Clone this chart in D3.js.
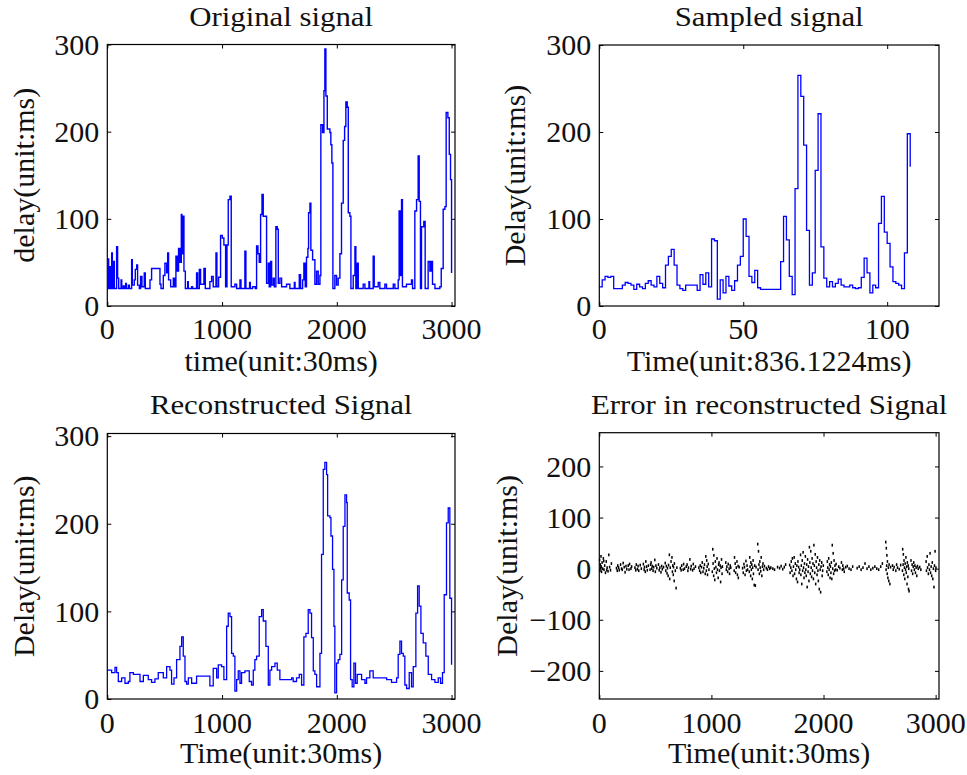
<!DOCTYPE html>
<html>
<head>
<meta charset="utf-8">
<script src="https://cdn.jsdelivr.net/npm/d3@7"></script>
<style>
html,body{margin:0;padding:0;background:#fff;}
svg{display:block;}
text{font-family:"Liberation Serif","Times New Roman",serif;fill:#111;}
</style>
</head>
<body>
<svg id="chart" width="967" height="775"></svg>
<script>
// ---------------- DATA ----------------
// Original signal (time unit 30ms, delay ms) — step vertices
const origT = [0,12,23,32,38,44,52,61,81,90,99,120,126,139,148,160,166,183,192,212,218,235,244,256,264,279,290,302,322,331,372,386,430,459,468,488,502,517,526,534,552,575,587,598,610,621,633,645,650,659,668,680,700,706,735,743,778,787,802,813,842,854,894,909,923,947,955,970,987,1002,1016,1031,1043,1054,1069,1080,1112,1127,1156,1165,1199,1208,1240,1246,1266,1289,1301,1313,1324,1336,1348,1359,1379,1388,1403,1411,1423,1432,1446,1455,1469,1481,1490,1504,1519,1562,1591,1630,1636,1664,1673,1684,1702,1713,1725,1736,1748,1754,1766,1774,1789,1809,1824,1838,1853,1861,1876,1888,1896,1905,1917,1940,1948,1957,1966,1983,1998,2012,2027,2041,2056,2068,2079,2091,2100,2114,2123,2143,2158,2166,2178,2187,2230,2245,2280,2286,2317,2326,2361,2375,2419,2433,2492,2506,2535,2543,2555,2564,2572,2607,2651,2660,2680,2695,2709,2718,2729,2738,2758,2770,2796,2811,2822,2834,2855,2898,2910,2927,2942,2953,2968,2980,2991,3000];
const origV = [54,20,45,20,61,20,51,20,68,32,20,30,20,23,20,26,20,24,20,53,24,30,42,47,24,20,34,22,38,20,30,43,43,25,20,35,49,38,61,30,22,32,22,57,40,66,50,105,60,103,40,20,28,20,22,20,38,20,42,25,43,20,28,34,22,61,22,33,81,78,70,22,70,122,126,22,25,20,30,20,63,20,27,20,22,20,69,60,50,105,128,103,103,26,49,22,51,24,32,22,91,88,26,32,22,25,20,27,20,20,36,20,30,49,22,56,66,107,118,64,53,25,40,25,35,208,199,247,295,241,203,199,185,164,20,35,24,32,60,118,190,206,234,228,107,103,20,35,68,20,49,20,25,20,28,20,57,22,27,20,25,20,25,20,30,109,35,122,22,25,30,20,109,122,172,120,20,91,97,20,51,40,51,25,20,22,43,111,114,222,216,174,145,38];

// Sampled signal (time unit 836.1224ms), one value per sample index 0..108
const sampV = [22,30,34,33,34,20,20,20,24,27,26,24,19,25,22,20,26,29,24,22,34,26,21,47,57,65,47,24,20,18,24,24,24,24,18,36,25,38,22,77,75,8,30,15,34,23,18,29,47,57,100,80,34,27,41,21,19,19,19,19,19,19,19,51,103,76,34,13,135,265,241,185,87,24,38,156,221,68,32,22,28,22,26,31,24,22,22,24,21,20,21,33,55,38,15,24,21,95,126,85,72,45,28,26,24,20,61,198,160];

// Reconstructed signal (time unit 30ms) — step vertices
const reconT = [0,38,67,81,96,125,154,183,197,227,285,314,357,386,415,444,488,517,546,560,581,604,633,648,662,677,691,706,735,778,894,923,953,967,996,1016,1040,1054,1069,1083,1098,1112,1127,1141,1156,1170,1199,1237,1257,1272,1286,1301,1324,1345,1359,1382,1403,1417,1432,1461,1481,1504,1606,1620,1649,1673,1693,1713,1731,1751,1766,1780,1795,1809,1824,1853,1867,1882,1896,1911,1920,1940,1949,1963,1975,1983,1998,2012,2027,2042,2056,2071,2085,2091,2108,2120,2134,2149,2163,2178,2216,2245,2259,2288,2317,2434,2477,2521,2535,2550,2564,2579,2593,2608,2631,2651,2666,2689,2704,2718,2733,2753,2776,2797,2826,2855,2884,2904,2921,2936,2956,2971,2985,3000];
const reconV = [33,30,36,30,20,24,18,20,30,28,20,27,22,19,23,30,24,37,33,17,24,45,60,71,49,20,17,24,18,26,15,35,24,39,37,22,83,98,94,52,49,9,22,32,18,30,32,20,16,33,45,49,94,102,89,60,16,33,37,41,33,22,24,20,24,28,16,71,75,102,98,70,32,28,14,52,165,262,270,256,209,207,186,148,83,7,41,45,51,136,197,233,224,121,113,22,14,41,18,28,22,18,24,32,24,22,19,24,51,66,52,49,16,12,30,14,37,98,129,106,75,64,49,28,22,19,24,18,30,119,201,218,115,39];

// Error in reconstructed signal (time unit 30ms, ms)
const errT = [3,6,9,12,15,18,20,25,30,36,40,42,48,55,62,66,70,78,85,92,100,108,
  153,160,165,172,178,190,198,205,213,222,230,238,245,258,265,270,282,288,
  318,325,330,340,346,352,365,375,
  393,400,403,410,415,422,428,438,
  453,458,462,468,472,480,485,495,500,505,513,
  528,534,540,550,556,562,573,
  588,593,598,604,608,614,618,625,628,633,640,648,652,655,660,662,668,670,678,685,692,
  723,730,735,748,752,760,775,783,790,795,808,815,820,832,838,845,858,
  888,895,900,905,912,918,925,932,938,945,950,955,958,962,965,972,978,
  1008,1012,1015,1020,1022,1026,1030,1035,1040,1045,1050,1054,1060,1064,1068,1072,1078,1082,1086,1090,1095,1098,
  1128,1133,1138,1145,1150,1158,1162,1168,1173,
  1203,1206,1212,1216,1222,1228,1232,1238,1240,1248,
  1278,1284,1290,1295,1300,1308,1312,1318,1323,
  1338,1342,1345,1350,1352,1356,1360,1365,1368,1372,1375,1382,1386,1392,1398,
  1413,1416,1420,1424,1428,1432,1435,1440,1444,1450,1455,1460,1466,1473,
  1490,1500,1510,1520,1530,1548,1563,1590,1608,1622,1636,1650,1662,
  1698,1702,1708,1712,1718,1722,1728,1732,1738,1742,1748,1752,1758,1762,1768,1772,1778,1782,1788,
  1795,1798,1802,1806,1810,1814,1818,1822,1826,1830,1834,1838,1842,1846,1850,1854,1858,1862,1866,1870,1874,1878,1882,1886,1890,1894,1898,1902,1906,
  1910,1914,1918,1922,1926,1930,1934,1938,1942,1946,1950,1954,1958,1962,1966,1970,1974,1978,1984,1988,1992,1998,
  2030,2034,2038,2042,2046,2050,2054,2058,2062,2066,2070,2074,2078,2082,2086,2090,2094,2098,2102,2108,2112,2122,2135,2146,
  2160,2168,2172,2180,2185,2198,2212,2228,2245,2260,
  2300,2318,2335,2352,2370,2388,2405,2422,2440,2458,2475,2492,2510,2525,
  2555,2558,2560,2563,2565,2568,2570,2574,2578,2582,2585,2592,2598,
  2615,2622,2630,2645,2652,2660,2675,2688,
  2704,2706,2710,2712,2716,2718,2722,2725,2728,2732,2735,2738,2742,2745,2748,2752,2755,2758,2760,2763,
  2780,2785,2790,2795,2800,2805,2810,2815,2820,2826,2832,2838,2845,2858,2868,
  2915,2918,2925,2928,2935,2940,2945,2950,2955,2960,2965,2970,2975,2980,2985,2990,2995,3000,3003];
const errV = [17,-4,8,2,24,4,-6,12,0,20,15,-2,6,-8,14,-3,2,-5,27,3,-3,10,
  1,-4,6,2,-3,8,0,-2,11,3,-7,5,-1,6,-2,9,0,4,
  2,-3,8,-1,5,-4,7,0,
  9,-2,3,-6,14,4,-3,6,
  -2,8,12,0,5,-4,3,17,-6,6,1,
  8,-3,2,-7,5,-1,3,
  11,-4,5,-9,1,-14,7,27,-20,2,14,22,-6,6,-12,3,-24,10,-4,-38,2,
  1,-3,6,-2,9,0,4,8,-4,2,18,-1,5,-3,9,0,4,
  2,-4,6,-8,3,12,-6,1,8,-10,24,-4,16,4,-12,9,-2,
  -6,38,10,-14,26,0,-22,14,3,-8,20,-2,-18,8,12,-4,6,-26,2,18,-10,4,
  12,-2,4,-6,9,0,-10,6,2,
  -4,22,10,-8,2,14,-12,5,-18,3,
  1,-8,9,3,-12,15,-4,6,-2,
  -6,22,4,-14,12,-2,8,-20,2,16,-10,-32,6,-33,3,
  48,-2,34,8,-10,14,2,-5,22,-14,4,10,-2,5,
  1,-2,4,0,2,0,-2,3,1,5,-1,3,8,
  7,-8,2,14,-4,20,-14,4,22,-10,10,-2,-20,6,-26,14,3,-8,-2,
  27,-12,6,-30,16,-4,32,2,-18,10,-8,24,-2,-14,8,-36,18,-6,4,-24,42,12,-10,34,2,-16,20,-4,10,
  -20,46,6,-8,28,-30,14,2,-12,22,-4,-24,8,-40,16,-2,-46,4,12,-14,-4,6,
  -6,14,2,-12,20,-2,8,-18,4,-8,12,-20,46,0,30,-10,16,-4,6,-2,9,-3,4,1,
  12,-2,6,0,-6,3,5,0,-2,4,
  1,4,-2,2,10,0,4,-2,1,4,0,-2,4,10,
  52,-2,40,6,26,-10,14,-18,2,-24,8,-30,3,
  6,-2,3,-4,8,2,-1,7,
  -4,38,8,28,-12,16,2,-20,10,-2,22,-8,4,-30,12,-16,6,-40,0,-44,
  16,-4,8,-10,4,12,-2,6,-8,2,-14,5,0,3,-2,
  14,-4,24,2,-10,8,-2,30,-8,4,-14,12,-20,0,-36,6,34,-4,2];

// Tick labels / titles
const ticksY = [0, 100, 200, 300];
const ticksYErr = [-200, -100, 0, 100, 200];
const ticksXLong = [0, 1000, 2000, 3000];
const ticksXSamp = [0, 50, 100];
const titles = ["Original signal", "Sampled signal", "Reconstructed Signal", "Error in reconstructed Signal"];
const xLabels = ["time(unit:30ms)", "Time(unit:836.1224ms)", "Time(unit:30ms)", "Time(unit:30ms)"];
const yLabels = ["delay(unit:ms)", "Delay(unit:ms)", "Delay(unit:ms)", "Delay(unit:ms)"];

// ---------------- LAYOUT ----------------
const svg = d3.select("#chart");
const FS = 30;
const TFS = 28;
const panels = [
  {box:[107.3,455,44.5,306], xd:[0,3030], yd:[0,300], xt:ticksXLong, yt:ticksY, titleY:26, ylabX:34, tickLabY:339, xlabY:371},
  {box:[599.3,939,45,306], xd:[0,118], yd:[0,300], xt:ticksXSamp, yt:ticksY, titleY:26, ylabX:525, tickLabY:339, xlabY:371},
  {box:[107.3,455,433.5,699], xd:[0,3030], yd:[0,303], xt:ticksXLong, yt:ticksY, titleY:414, ylabX:34, tickLabY:733, xlabY:763},
  {box:[599.3,939,432.7,699], xd:[0,3030], yd:[-255,266], xt:ticksXLong, yt:ticksYErr, titleY:414, ylabX:517, tickLabY:733, xlabY:763}
];

panels.forEach((p, i) => {
  const [x0, x1, y0, y1] = p.box;
  p.x = d3.scaleLinear().domain(p.xd).range([x0, x1]);
  p.y = d3.scaleLinear().domain(p.yd).range([y1, y0]);
  const g = svg.append("g");
  p.g = g;
  const cx = (x0 + x1) / 2, cy = (y0 + y1) / 2;

  // inward ticks on all four sides
  const tl = 4;
  const mk = (axis, tr) => g.append("g").attr("transform", tr).call(axis)
      .call(s => s.select(".domain").remove())
      .call(s => s.selectAll("line").attr("stroke", "#000").attr("stroke-width", 1))
      .call(s => s.selectAll("text").remove());
  mk(d3.axisBottom(p.x).tickValues(p.xt).tickSizeInner(-tl).tickSizeOuter(0), `translate(0,${y1})`);
  mk(d3.axisTop(p.x).tickValues(p.xt).tickSizeInner(-tl).tickSizeOuter(0), `translate(0,${y0})`);
  mk(d3.axisLeft(p.y).tickValues(p.yt).tickSizeInner(-tl).tickSizeOuter(0), `translate(${x0},0)`);
  mk(d3.axisRight(p.y).tickValues(p.yt).tickSizeInner(-tl).tickSizeOuter(0), `translate(${x1},0)`);

  // tick labels
  const fmt = d3.format("d");
  g.selectAll(".xl").data(p.xt).join("text")
    .attr("x", d => p.x(d)).attr("y", p.tickLabY)
    .attr("text-anchor", "middle").attr("font-size", FS).text(d => fmt(d));
  g.selectAll(".yl").data(p.yt).join("text")
    .attr("x", x0 - 8).attr("y", d => p.y(d)).attr("dy", "0.34em")
    .attr("text-anchor", "end").attr("font-size", FS).text(d => fmt(d));

  // title (slightly wide, as in the reference), axis labels
  g.append("text").attr("transform", `translate(${cx},${p.titleY}) scale(1.1,1)`)
    .attr("text-anchor", "middle").attr("font-size", TFS).text(titles[i]);
  g.append("text").attr("x", cx).attr("y", p.xlabY).attr("text-anchor", "middle")
    .attr("font-size", FS).text(xLabels[i]);
  g.append("text").attr("transform", `translate(${p.ylabX},${cy}) rotate(-90)`)
    .attr("text-anchor", "middle").attr("font-size", FS).text(yLabels[i]);
});

// ---------------- MARKS ----------------
const lineOf = (p) => d3.line().x(d => p.x(d[0])).y(d => p.y(d[1])).curve(d3.curveStepAfter);
const blue = "#0000ff";

const p0 = panels[0];
p0.g.append("path").datum(origT.map((t, k) => [t, origV[k]]))
  .attr("d", lineOf(p0)).attr("fill", "none").attr("stroke", blue).attr("stroke-width", 1.4);

const p1 = panels[1];
p1.g.append("path").datum(sampV.map((v, k) => [k, v]))
  .attr("d", lineOf(p1)).attr("fill", "none").attr("stroke", blue).attr("stroke-width", 1.3);

const p2 = panels[2];
p2.g.append("path").datum(reconT.map((t, k) => [t, reconV[k]]))
  .attr("d", lineOf(p2)).attr("fill", "none").attr("stroke", blue).attr("stroke-width", 1.3);

const p3 = panels[3];
p3.g.selectAll("rect.pt").data(errT.map((t, k) => [t, errV[k]])).join("rect")
  .attr("class", "pt")
  .attr("x", d => p3.x(d[0]) - 0.75).attr("y", d => p3.y(d[1]) - 1.4)
  .attr("width", 1.5).attr("height", 2.8).attr("fill", "#000");

// frames on top
panels.forEach(p => {
  const [x0, x1, y0, y1] = p.box;
  p.g.append("rect").attr("x", x0).attr("y", y0).attr("width", x1 - x0).attr("height", y1 - y0)
    .attr("fill", "none").attr("stroke", "#000").attr("stroke-width", 1.2);
});
</script>
</body>
</html>
